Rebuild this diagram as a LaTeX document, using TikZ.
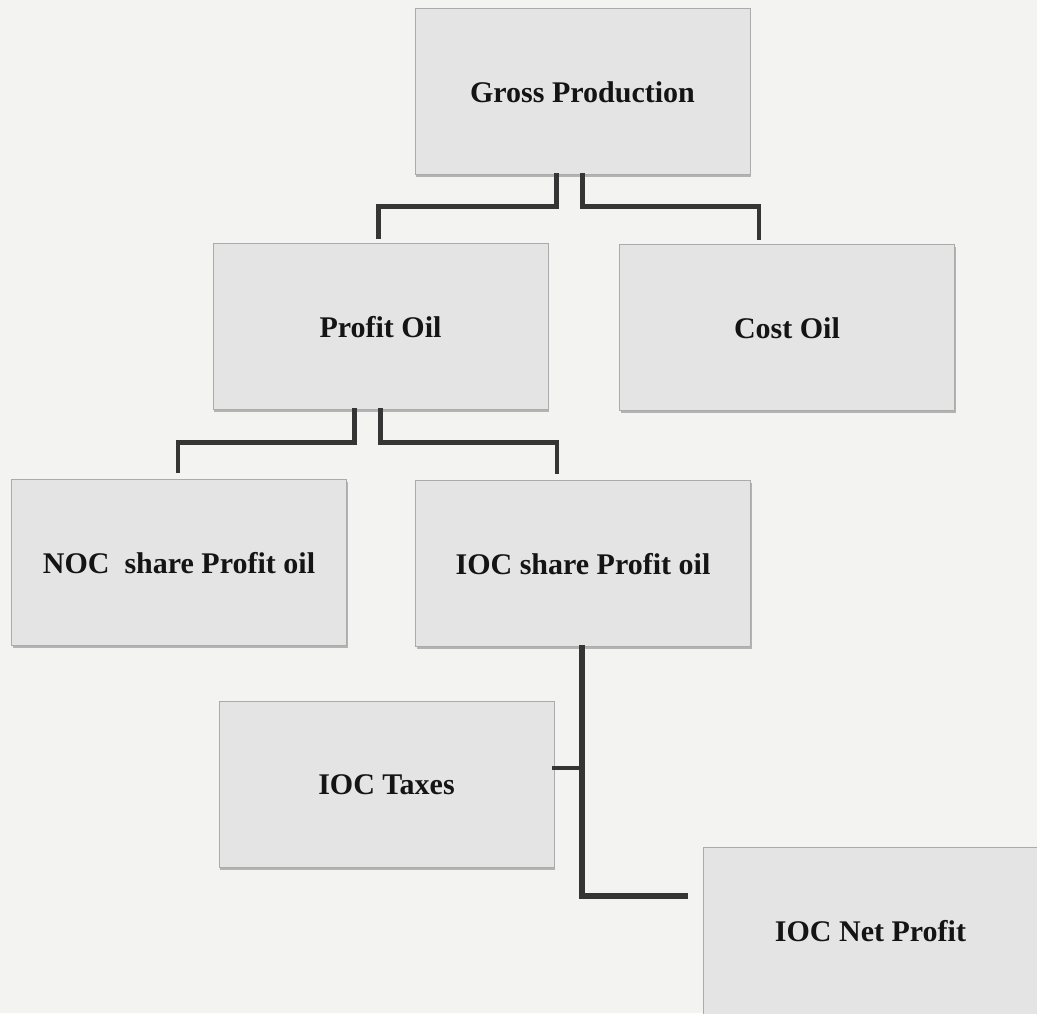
\documentclass[tikz,border=0pt]{standalone}
\usepackage{fontspec}
\setmainfont{Liberation Serif}
\usetikzlibrary{shadows}
\definecolor{bgc}{HTML}{F3F3F2}
\definecolor{boxfill}{HTML}{E4E4E4}
\definecolor{boxline}{HTML}{ABABAB}
\definecolor{connc}{HTML}{353535}
\definecolor{txtc}{HTML}{141414}
\tikzset{
  box/.style={rectangle, fill=boxfill, draw=boxline, line width=1pt,
    minimum width=335pt, minimum height=166pt, inner sep=0pt,
    font=\fontsize{30}{36}\selectfont\bfseries, text=txtc,
    drop shadow={shadow xshift=1pt, shadow yshift=-2.5pt, opacity=0.45, fill=black!60}},
  conn/.style={draw=connc, line width=4.5pt, line cap=rect, line join=miter},
  trunk/.style={conn, line width=5.5pt}
}
\begin{document}
\begin{tikzpicture}[x=1pt,y=1pt]
\fill[bgc] (0,0) rectangle (1037,1013);
\useasboundingbox (0,0) rectangle (1037,1013);
\node[box] (gp) at (582.5,921) {Gross Production};
\node[box] (po) at (380.5,686) {Profit Oil};
\node[box] (co) at (787,685) {Cost Oil};
\node[box] (noc) at (179,450) {NOC\ \ share Profit oil};
\node[box] (ioc) at (583,449) {IOC share Profit oil};
\node[box] (tax) at (386.5,228) {IOC Taxes};
\node[box] (net) at (870.5,82) {IOC Net Profit};
\draw[conn] ([xshift=-26pt]gp.south) -- ++(0,-31) -| ([xshift=-2pt,yshift=7pt]po.north);
\draw[conn] (gp.south) -- ++(0,-31) -| ([xshift=-28pt,yshift=7pt]co.north);
\draw[conn] ([xshift=-26pt]po.south) -- ++(0,-32) -| ([xshift=-1pt,yshift=9pt]noc.north);
\draw[conn] (po.south) -- ++(0,-32) -| ([xshift=-26pt,yshift=9pt]ioc.north);
\draw[trunk] ([xshift=-1pt]ioc.south) |- ([xshift=-17pt,yshift=35pt]net.west);
\draw[conn] ([yshift=17pt]tax.east) -- ([yshift=17pt,xshift=-1pt]tax.east -| ioc.south);
\end{tikzpicture}
\end{document}
